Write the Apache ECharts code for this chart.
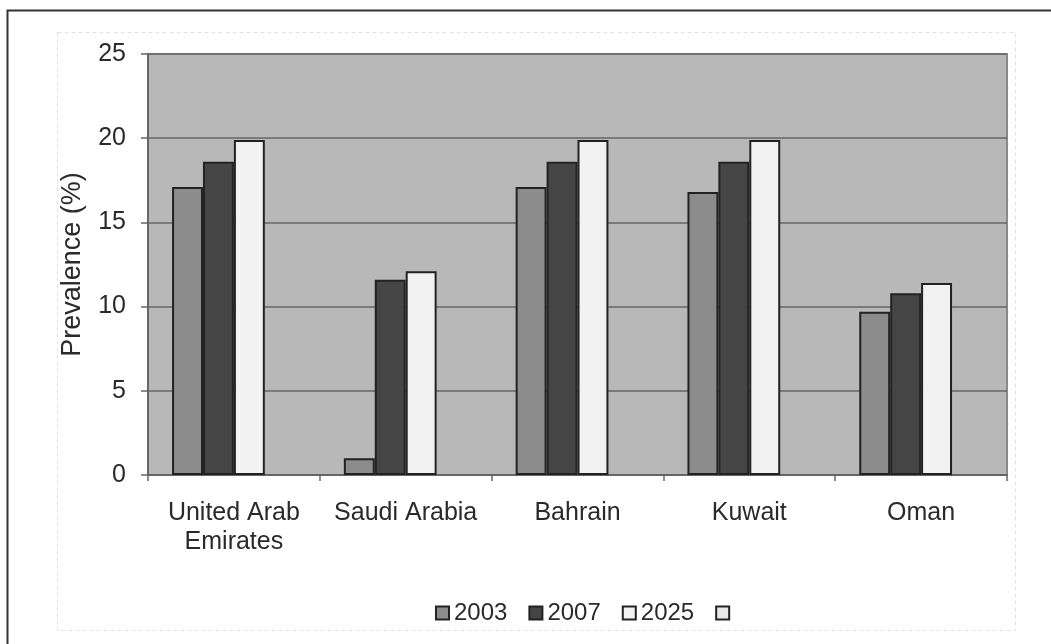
<!DOCTYPE html>
<html><head><meta charset="utf-8">
<script src="https://cdn.jsdelivr.net/npm/echarts@6/dist/echarts.min.js"></script>
<style>html,body{margin:0;padding:0;background:#fff}#c{width:1051px;height:644px}</style>
</head><body><div id="c"></div>
<script>
const categories = ['United Arab\nEmirates', 'Saudi Arabia', 'Bahrain', 'Kuwait', 'Oman'];
const seriesNames = ['2003', '2007', '2025', ' '];
const v2003 = [17.1, 1.0, 17.1, 16.8, 9.7];
const v2007 = [18.6, 11.6, 18.6, 18.6, 10.8];
const v2025 = [19.9, 12.1, 19.9, 19.9, 11.4];
const vExtra = [null, null, null, null, null];
const yTicks = [0, 5, 10, 15, 20, 25];

const colors = ['#8c8c8c', '#454545', '#f2f2f2', '#e8e8e8'];
const allData = [v2003, v2007, v2025, vExtra];
const font = 'Liberation Sans, Arial, sans-serif';

const chart = echarts.init(document.getElementById('c'));
chart.setOption({
  animation: false,
  backgroundColor: '#ffffff',
  graphic: [
    { type: 'rect', shape: { x: 7.5, y: 10.5, width: 1100, height: 700 }, style: { fill: 'none', stroke: '#333', lineWidth: 2 }, silent: true },
    { type: 'rect', shape: { x: 57.5, y: 32.5, width: 958, height: 598 }, style: { fill: 'none', stroke: '#e2e2e2', lineWidth: 1, lineDash: [4, 3] }, silent: true }
  ],
  grid: { left: 148, right: 44, top: 54, bottom: 169, show: true, backgroundColor: '#b8b8b8', borderColor: '#8a8a8a', borderWidth: 2 },
  legend: {
    data: seriesNames.map(n => ({ name: n, icon: 'rect' })),
    bottom: 14, left: 430,
    itemWidth: 13, itemHeight: 13, itemGap: 21,
    textStyle: { fontFamily: font, fontSize: 24, color: '#2a2a2a' }
  },
  xAxis: {
    type: 'category', data: categories,
    axisLine: { lineStyle: { color: '#666', width: 2 } },
    axisTick: { show: true, interval: 0, length: 6, lineStyle: { color: '#666', width: 1.5 } },
    axisLabel: { interval: 0, hideOverlap: false, fontFamily: font, fontSize: 25, color: '#2a2a2a', margin: 24, lineHeight: 29 }
  },
  yAxis: {
    type: 'value', min: 0, max: 25, interval: 5,
    name: 'Prevalence (%)', nameLocation: 'middle', nameGap: 62, nameRotate: 90,
    nameTextStyle: { fontFamily: font, fontSize: 27, color: '#2a2a2a' },
    axisLine: { show: true, lineStyle: { color: '#666', width: 2 } },
    axisTick: { show: true, length: 7, lineStyle: { color: '#666', width: 1.5 } },
    axisLabel: { fontFamily: font, fontSize: 25, color: '#2a2a2a', margin: 22,
      formatter: v => yTicks.includes(v) ? String(v) : '' },
    splitLine: { lineStyle: { color: '#666', width: 1.5 } }
  },
  series: seriesNames.map((n, i) => ({
    name: n, type: 'bar', data: allData[i],
    barGap: '0%', barCategoryGap: '28%',
    itemStyle: { color: colors[i], borderColor: '#222', borderWidth: 2 }
  }))
});
</script></body></html>
